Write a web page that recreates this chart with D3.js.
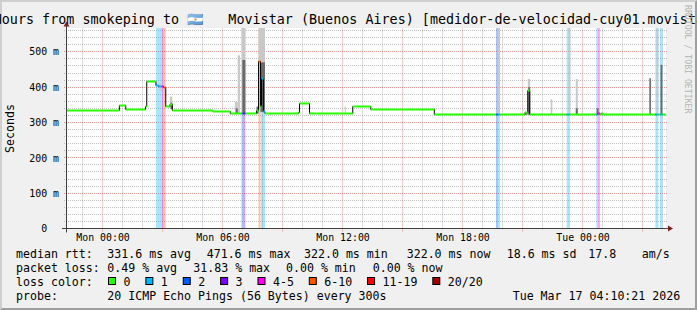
<!DOCTYPE html>
<html>
<head>
<meta charset="utf-8">
<script src="https://cdn.jsdelivr.net/npm/d3@7"></script>
<style>
  body { margin: 0; background: #f0f0f0; }
  svg text { font-family: "DejaVu Sans Mono", monospace; white-space: pre; }
</style>
</head>
<body>
<div id="chart"></div>
<script>

// Time window: last 30 hours, ending at the stamp in the legend
const tStart = Date.UTC(2026, 2, 15, 22, 10, 21);
const tEnd = Date.UTC(2026, 2, 17, 4, 10, 21);
const mon0 = Date.UTC(2026, 2, 16, 0, 0, 0);

// Loss classes
const lossLabels = ["0", "1", "2", "3", "4-5", "6-10", "11-19", "20/20"];
const lossColors = ["#26ff00", "#00b8ff", "#0059ff", "#7e00ff", "#ff00f0", "#ff5500", "#ff0000", "#a10000"];

// Median rtt steps: [hours from Mon 00:00, ms, loss class]
const median = [
  [-1.83, 333, 0], [0.84, 347, 0], [1.16, 337, 0], [2.15, 344, 0], [2.21, 417, 0],
  [2.67, 406, 1], [2.81, 403, 1], [2.96, 401, 4], [3.05, 398, 5], [3.16, 345, 0],
  [3.37, 350, 0], [3.49, 334, 0], [5.52, 330, 0], [6.39, 325, 0],
  [6.94, 325, 1], [7.01, 325, 3], [7.14, 325, 0], [7.70, 335, 0],
  [7.80, 472, 5], [7.90, 346, 0], [7.95, 425, 1], [8.04, 330, 1], [8.12, 325, 0],
  [9.79, 327, 0], [9.85, 353, 0], [10.35, 325, 0], [12.51, 345, 0], [13.41, 338, 0],
  [16.59, 322, 0], [19.67, 322, 2], [19.77, 322, 1], [19.87, 322, 0],
  [21.12, 328, 0], [21.26, 390, 0], [21.36, 322, 0],
  [23.21, 322, 1], [23.37, 322, 0],
  [24.69, 322, 1], [24.76, 325, 4], [24.87, 322, 0], [24.93, 326, 0], [25.02, 322, 0],
  [27.64, 322, 1], [27.79, 322, 0], [27.87, 322, 1], [27.99, 322, 0]
];

// Loss background bands: [from h, to h, loss class]
const lossBands = [
  [2.67, 2.96, 1], [2.96, 3.05, 4], [3.05, 3.16, 5],
  [6.94, 7.01, 1], [7.01, 7.14, 3],
  [7.80, 7.90, 5], [7.93, 8.12, 1],
  [19.67, 19.77, 2], [19.77, 19.87, 1],
  [23.21, 23.37, 1],
  [24.69, 24.76, 1], [24.76, 24.87, 4],
  [27.64, 27.79, 1], [27.87, 27.99, 1]
];

// Smoke (spread of the 20 pings): [from h, to h, low ms, high ms]
const smokeOuter = [
  [2.85, 2.96, 390, 412], [3.05, 3.12, 385, 400], [3.37, 3.49, 342, 373],
  [6.62, 6.76, 325, 358], [6.76, 6.87, 325, 490], [6.96, 7.14, 325, 600],
  [7.80, 8.12, 328, 600], [12.11, 12.16, 324, 346],
  [19.77, 19.87, 322, 600], [21.26, 21.38, 322, 423], [22.41, 22.49, 322, 366],
  [23.30, 23.40, 322, 600], [23.66, 23.76, 322, 423], [27.70, 27.79, 322, 600]
];
const smokeInner = [
  [3.40, 3.49, 338, 356], [6.66, 6.76, 325, 340], [6.99, 7.14, 325, 477],
  [7.70, 7.80, 325, 345], [7.90, 8.12, 330, 470],
  [21.12, 21.26, 322, 330], [21.28, 21.38, 322, 400], [23.66, 23.76, 322, 340],
  [24.70, 24.80, 322, 340], [27.34, 27.42, 322, 425], [27.90, 27.99, 322, 463]
];

// Axis ticks
const yMajor = [0, 100, 200, 300, 400, 500];
const yMinorStep = 20;

// Legend texts
const titleParts = ["Last 30 Hours from smokeping to ", "\u{1F1E6}\u{1F1F7}", " Movistar (Buenos Aires) [medidor-de-velocidad-cuy01.movistar.com.ar]"];
const rttStats = ["331.6 ms avg", "471.6 ms max", "322.0 ms min", "322.0 ms now", "18.6 ms sd", "17.8", "am/s"];
const lossStats = ["0.49 % avg", "31.83 % max", "0.00 % min", "0.00 % now"];
const probeText = "20 ICMP Echo Pings (56 Bytes) every 300s";
const stamp = "Tue Mar 17 04:10:21 2026";

// ---- layout
const W = 697, H = 310;
const pL = 66, pR = 666, pT = 28.5, pB = 228.5;
const rttX = [107.3, 206.7, 304, 406.7, 506.7, 588.3, 641.7];
const lossX = [107.3, 193.3, 286, 372.7];
const rowY = [257.8, 271.9, 286, 300];
const legendFont = 11.6, axisFont = 9.9;

const at = h => new Date(mon0 + h * 3600e3);
const x = d3.scaleUtc().domain([tStart, tEnd]).range([pL, pR]);
const y = d3.scaleLinear().domain([0, 566]).range([pB, pT]);
const px = v => Math.floor(v) + 0.5;

const svg = d3.select("#chart").append("svg")
  .attr("width", W).attr("height", H)
  .style("display", "block");

// background and 3d frame
svg.append("rect").attr("width", W).attr("height", H).attr("fill", "#f0f0f0");
svg.append("path").attr("fill", "#cfcfcf")
  .attr("d", `M0,${H}L2,${H - 2}L2,2L${W - 2},2L${W},0L0,0Z`);
svg.append("path").attr("fill", "#9e9e9e")
  .attr("d", `M2,${H - 2}L${W - 2},${H - 2}L${W - 2},2L${W},0L${W},${H}L0,${H}Z`);

// canvas
svg.append("rect").attr("x", pL).attr("y", pT - 0.5)
  .attr("width", pR - pL).attr("height", pB - pT + 0.5).attr("fill", "#fff");

svg.append("clipPath").attr("id", "plot")
  .append("rect").attr("x", pL).attr("y", pT - 0.5)
  .attr("width", pR - pL).attr("height", pB - pT);

// grid
const grid = svg.append("g").attr("fill", "none");
const hours = x.ticks(d3.utcHour.every(1));
hours.forEach(d => {
  const major = d.getUTCHours() % 3 === 0;
  const gx = px(x(d));
  grid.append("line")
    .attr("x1", gx).attr("x2", gx).attr("y1", pT).attr("y2", pB + (major ? 3 : 2))
    .attr("stroke", major ? "#e05050" : "#8f8f8f")
    .attr("stroke-opacity", major ? 0.6 : 0.55)
    .attr("stroke-dasharray", "1,1");
});
d3.range(yMinorStep, 566, yMinorStep).forEach(v => {
  const major = v % 100 === 0;
  const gy = px(y(v));
  grid.append("line")
    .attr("x1", pL - 2).attr("x2", pR + 2).attr("y1", gy).attr("y2", gy)
    .attr("stroke", major ? "#e05050" : "#8f8f8f")
    .attr("stroke-opacity", major ? 0.6 : 0.55)
    .attr("stroke-dasharray", "1,1");
});

const plot = svg.append("g").attr("clip-path", "url(#plot)");

// loss background
plot.append("g").selectAll("rect")
  .data(lossBands)
  .join("rect")
  .attr("x", d => x(at(d[0])))
  .attr("width", d => x(at(d[1])) - x(at(d[0])))
  .attr("y", pT - 0.5)
  .attr("height", pB - pT)
  .attr("fill", d => lossColors[d[2]])
  .attr("fill-opacity", 0.35);

// smoke
const smoke = (data, col) => plot.append("g").selectAll("rect")
  .data(data)
  .join("rect")
  .attr("x", d => x(at(d[0])))
  .attr("width", d => x(at(d[1])) - x(at(d[0])))
  .attr("y", d => y(d[3]))
  .attr("height", d => y(d[2]) - y(d[3]))
  .attr("fill", col);
smoke(smokeOuter, "#c8c8c8");
smoke(smokeInner, "#6a6a6a");

// median: black step line, then loss coloured steps
const steps = median.map((d, i) => ({
  t0: at(d[0]),
  t1: i < median.length - 1 ? at(median[i + 1][0]) : new Date(tEnd),
  v: d[1], loss: d[2]
}));
plot.append("path")
  .datum(steps.concat([{ t0: new Date(tEnd), v: median[median.length - 1][1] }]))
  .attr("fill", "none")
  .attr("stroke", "#000")
  .attr("stroke-width", 1)
  .attr("d", d3.line().curve(d3.curveStepAfter).x(d => x(d.t0)).y(d => px(y(d.v))));
plot.append("g").selectAll("line")
  .data(steps)
  .join("line")
  .attr("x1", d => x(d.t0)).attr("x2", d => x(d.t1))
  .attr("y1", d => px(y(d.v))).attr("y2", d => px(y(d.v)))
  .attr("stroke", d => lossColors[d.loss])
  .attr("stroke-width", 2);

// axes
const ax = svg.append("g").attr("transform", `translate(0,${pB})`)
  .call(d3.axisBottom(x).ticks(d3.utcHour.every(6)).tickFormat(d3.utcFormat("%a %H:%M")).tickSize(0));
ax.select(".domain").remove();
ax.selectAll("text").attr("y", 12.5).attr("dy", null)
  .attr("font-family", "DejaVu Sans Mono").attr("font-size", axisFont).attr("fill", "#000");

const ay = svg.append("g").attr("transform", `translate(${pL + 0.5},0)`)
  .call(d3.axisLeft(y).tickValues(yMajor).tickFormat(v => v ? v + " m" : "0  ").tickSize(0));
ay.select(".domain").remove();
ay.selectAll("text").attr("x", -7.5)
  .attr("font-family", "DejaVu Sans Mono").attr("font-size", axisFont).attr("fill", "#000");

// axis lines and arrows
svg.append("line").attr("x1", pL - 4).attr("x2", pR + 4)
  .attr("y1", pB).attr("y2", pB).attr("stroke", "#404040");
svg.append("line").attr("x1", pL + 0.5).attr("x2", pL + 0.5)
  .attr("y1", pB + 4).attr("y2", pT - 4).attr("stroke", "#404040");
svg.append("path").attr("fill", "#7f1f1f")
  .attr("d", `M${pR + 2},${pB - 3}L${pR + 2},${pB + 3}L${pR + 7},${pB}Z`);
svg.append("path").attr("fill", "#7f1f1f")
  .attr("d", `M${pL - 2.5},${pT - 2}L${pL + 3.5},${pT - 2}L${pL + 0.5},${pT - 7}Z`);

// title
const title = svg.append("text").attr("y", 24).attr("font-size", 13.4).attr("fill", "#000");
title.append("tspan").attr("x", -70.8).text(titleParts[0]);
title.append("tspan").text(titleParts[1]);
title.append("tspan").attr("x", 220.3).text(titleParts[2]);

// y label and watermark
svg.append("text")
  .attr("transform", `translate(14,${(pT + pB) / 2}) rotate(-90)`)
  .attr("text-anchor", "middle").attr("font-size", legendFont).text("Seconds");
svg.append("text")
  .attr("transform", `translate(685,5) rotate(90)`)
  .attr("font-size", 8.2).attr("fill", "#b4b4b4").text("RRDTOOL / TOBI OETIKER");

// legend
const lg = svg.append("g").attr("font-size", legendFont).attr("fill", "#000");
lg.append("text").attr("x", 16).attr("y", rowY[0]).text("median rtt:");
rttStats.forEach((s, i) => lg.append("text").attr("x", rttX[i]).attr("y", rowY[0]).text(s));
lg.append("text").attr("x", 16).attr("y", rowY[1]).text("packet loss:");
lossStats.forEach((s, i) => lg.append("text").attr("x", lossX[i]).attr("y", rowY[1]).text(s));
lg.append("text").attr("x", 16).attr("y", rowY[2]).text("loss color:");
let bx = 108.5;
lossLabels.forEach((s, i) => {
  lg.append("rect").attr("x", bx).attr("y", rowY[2] - 8.5).attr("width", 7).attr("height", 7)
    .attr("fill", lossColors[i]).attr("stroke", "#000").attr("stroke-width", 1);
  lg.append("text").attr("x", bx + 15).attr("y", rowY[2]).text(s);
  bx += 15 + s.length * 6.97 + 15.4;
});
lg.append("text").attr("x", 16).attr("y", rowY[3]).text("probe:");
lg.append("text").attr("x", 107.3).attr("y", rowY[3]).text(probeText);
lg.append("text").attr("x", 512.7).attr("y", rowY[3]).text(stamp);

</script>
</body>
</html>
